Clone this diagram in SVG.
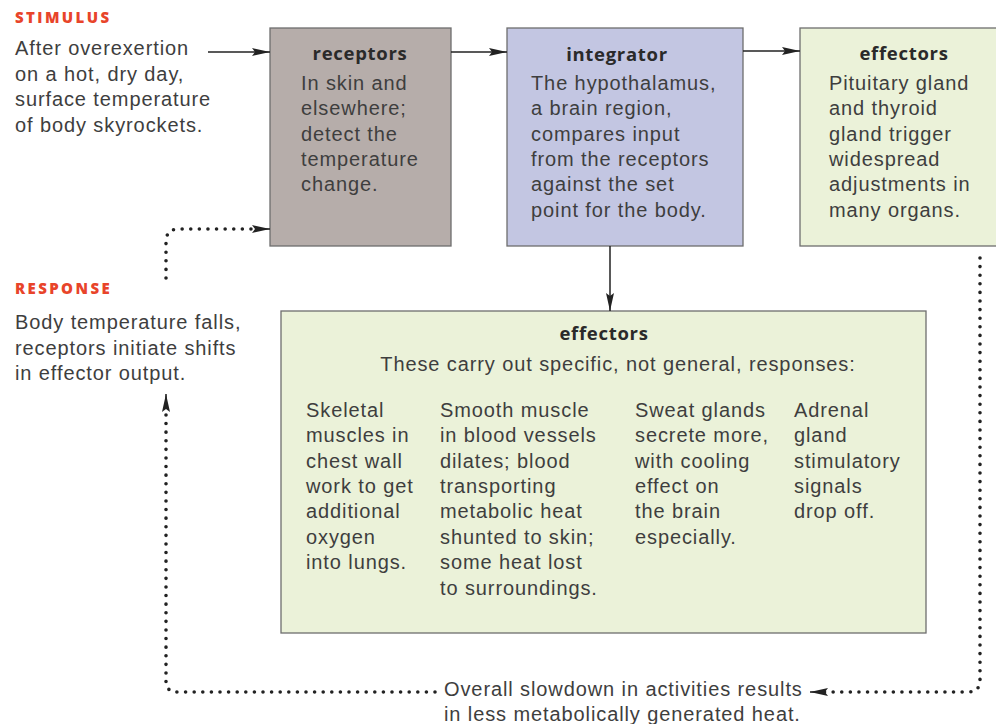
<svg xmlns="http://www.w3.org/2000/svg" width="996" height="724" viewBox="0 0 996 724">
<defs>
<marker id="ah" markerWidth="18" markerHeight="8" refX="18" refY="4" orient="auto" markerUnits="userSpaceOnUse">
<path d="M0,0 L18,4 L0,8 L3,4 Z" fill="#222"/>
</marker>
<style>
.t{font-family:"Liberation Sans",Arial,sans-serif;font-size:20px;fill:#3e3e3e;letter-spacing:0.9px}
.h{font-family:"Open Sans","DejaVu Sans",sans-serif;font-size:18.5px;font-weight:700;fill:#2a2a2a;letter-spacing:0.7px;text-anchor:middle}
.lab{font-family:"Open Sans","DejaVu Sans",sans-serif;font-size:15px;font-weight:800;fill:#e8442a;letter-spacing:2.4px}
.box{stroke:#6e6e6e;stroke-width:1.3}
.ln{stroke:#222;stroke-width:1.5;fill:none}
.dot{stroke:#222;stroke-width:3.6;fill:none;stroke-linecap:round;stroke-dasharray:0 8.6}
</style>
</defs>
<rect width="996" height="724" fill="#fff"/>

<g id="stimulus">
<text class="lab" x="15" y="23">STIMULUS</text>
<text class="t" x="15" y="55">After overexertion</text>
<text class="t" x="15" y="81">on a hot, dry day,</text>
<text class="t" x="15" y="106">surface temperature</text>
<text class="t" x="15" y="132">of body skyrockets.</text>
</g>

<g id="response">
<text class="lab" x="15" y="294">RESPONSE</text>
<text class="t" x="15" y="329">Body temperature falls,</text>
<text class="t" x="15" y="355">receptors initiate shifts</text>
<text class="t" x="15" y="380">in effector output.</text>
</g>

<g id="receptors">
<rect class="box" x="270" y="28" width="181" height="218" fill="#b6adaa"/>
<text class="h" x="360" y="60">receptors</text>
<text class="t" x="301" y="90">In skin and</text>
<text class="t" x="301" y="115">elsewhere;</text>
<text class="t" x="301" y="141">detect the</text>
<text class="t" x="301" y="166">temperature</text>
<text class="t" x="301" y="191">change.</text>
</g>

<g id="integrator">
<rect class="box" x="507" y="28" width="236" height="218" fill="#c3c6e2"/>
<text class="h" x="617" y="61">integrator</text>
<text class="t" x="531" y="90">The hypothalamus,</text>
<text class="t" x="531" y="115">a brain region,</text>
<text class="t" x="531" y="141">compares input</text>
<text class="t" x="531" y="166">from the receptors</text>
<text class="t" x="531" y="191">against the set</text>
<text class="t" x="531" y="217">point for the body.</text>
</g>

<g id="effectors-top">
<rect class="box" x="800" y="28" width="200" height="218" fill="#ebf2d9"/>
<text class="h" x="904" y="60">effectors</text>
<text class="t" x="829" y="90">Pituitary gland</text>
<text class="t" x="829" y="115">and thyroid</text>
<text class="t" x="829" y="141">gland trigger</text>
<text class="t" x="829" y="166">widespread</text>
<text class="t" x="829" y="191">adjustments in</text>
<text class="t" x="829" y="217">many organs.</text>
</g>

<g id="effectors-specific">
<rect class="box" x="281" y="311" width="645" height="322" fill="#ebf2d9"/>
<text class="h" x="604" y="340">effectors</text>
<text class="t" x="618" y="371" text-anchor="middle">These carry out specific, not general, responses:</text>
<text class="t" x="306" y="417">Skeletal</text>
<text class="t" x="306" y="442">muscles in</text>
<text class="t" x="306" y="468">chest wall</text>
<text class="t" x="306" y="493">work to get</text>
<text class="t" x="306" y="518">additional</text>
<text class="t" x="306" y="544">oxygen</text>
<text class="t" x="306" y="569">into lungs.</text>
<text class="t" x="440" y="417">Smooth muscle</text>
<text class="t" x="440" y="442">in blood vessels</text>
<text class="t" x="440" y="468">dilates; blood</text>
<text class="t" x="440" y="493">transporting</text>
<text class="t" x="440" y="518">metabolic heat</text>
<text class="t" x="440" y="544">shunted to skin;</text>
<text class="t" x="440" y="569">some heat lost</text>
<text class="t" x="440" y="595">to surroundings.</text>
<text class="t" x="635" y="417">Sweat glands</text>
<text class="t" x="635" y="442">secrete more,</text>
<text class="t" x="635" y="468">with cooling</text>
<text class="t" x="635" y="493">effect on</text>
<text class="t" x="635" y="518">the brain</text>
<text class="t" x="635" y="544">especially.</text>
<text class="t" x="794" y="417">Adrenal</text>
<text class="t" x="794" y="442">gland</text>
<text class="t" x="794" y="468">stimulatory</text>
<text class="t" x="794" y="493">signals</text>
<text class="t" x="794" y="518">drop off.</text>
</g>

<g id="outcome">
<text class="t" x="444" y="696">Overall slowdown in activities results</text>
<text class="t" x="444" y="721">in less metabolically generated heat.</text>
</g>

<g id="connectors">
<line class="ln" x1="208" y1="52" x2="270" y2="52" marker-end="url(#ah)"/>
<line class="ln" x1="451" y1="52" x2="507" y2="52" marker-end="url(#ah)"/>
<line class="ln" x1="743" y1="51" x2="800" y2="51" marker-end="url(#ah)"/>
<line class="ln" x1="610" y1="246" x2="610" y2="311" marker-end="url(#ah)"/>
<path class="dot" d="M166,278 V242 Q166,230 177,229 H262"/>
<path class="ln" d="M262,229 H270" stroke-width="0" marker-end="url(#ah)"/>
<path class="dot" d="M435,692 H178 Q166,692 166,682 V402"/>
<path class="ln" d="M166,402 V394" stroke-width="0" marker-end="url(#ah)"/>
<path class="dot" d="M980,258 V680 Q980,692 968,692 H822"/>
<path class="ln" d="M822,692 H810" stroke-width="0" marker-end="url(#ah)"/>
</g>
</svg>
